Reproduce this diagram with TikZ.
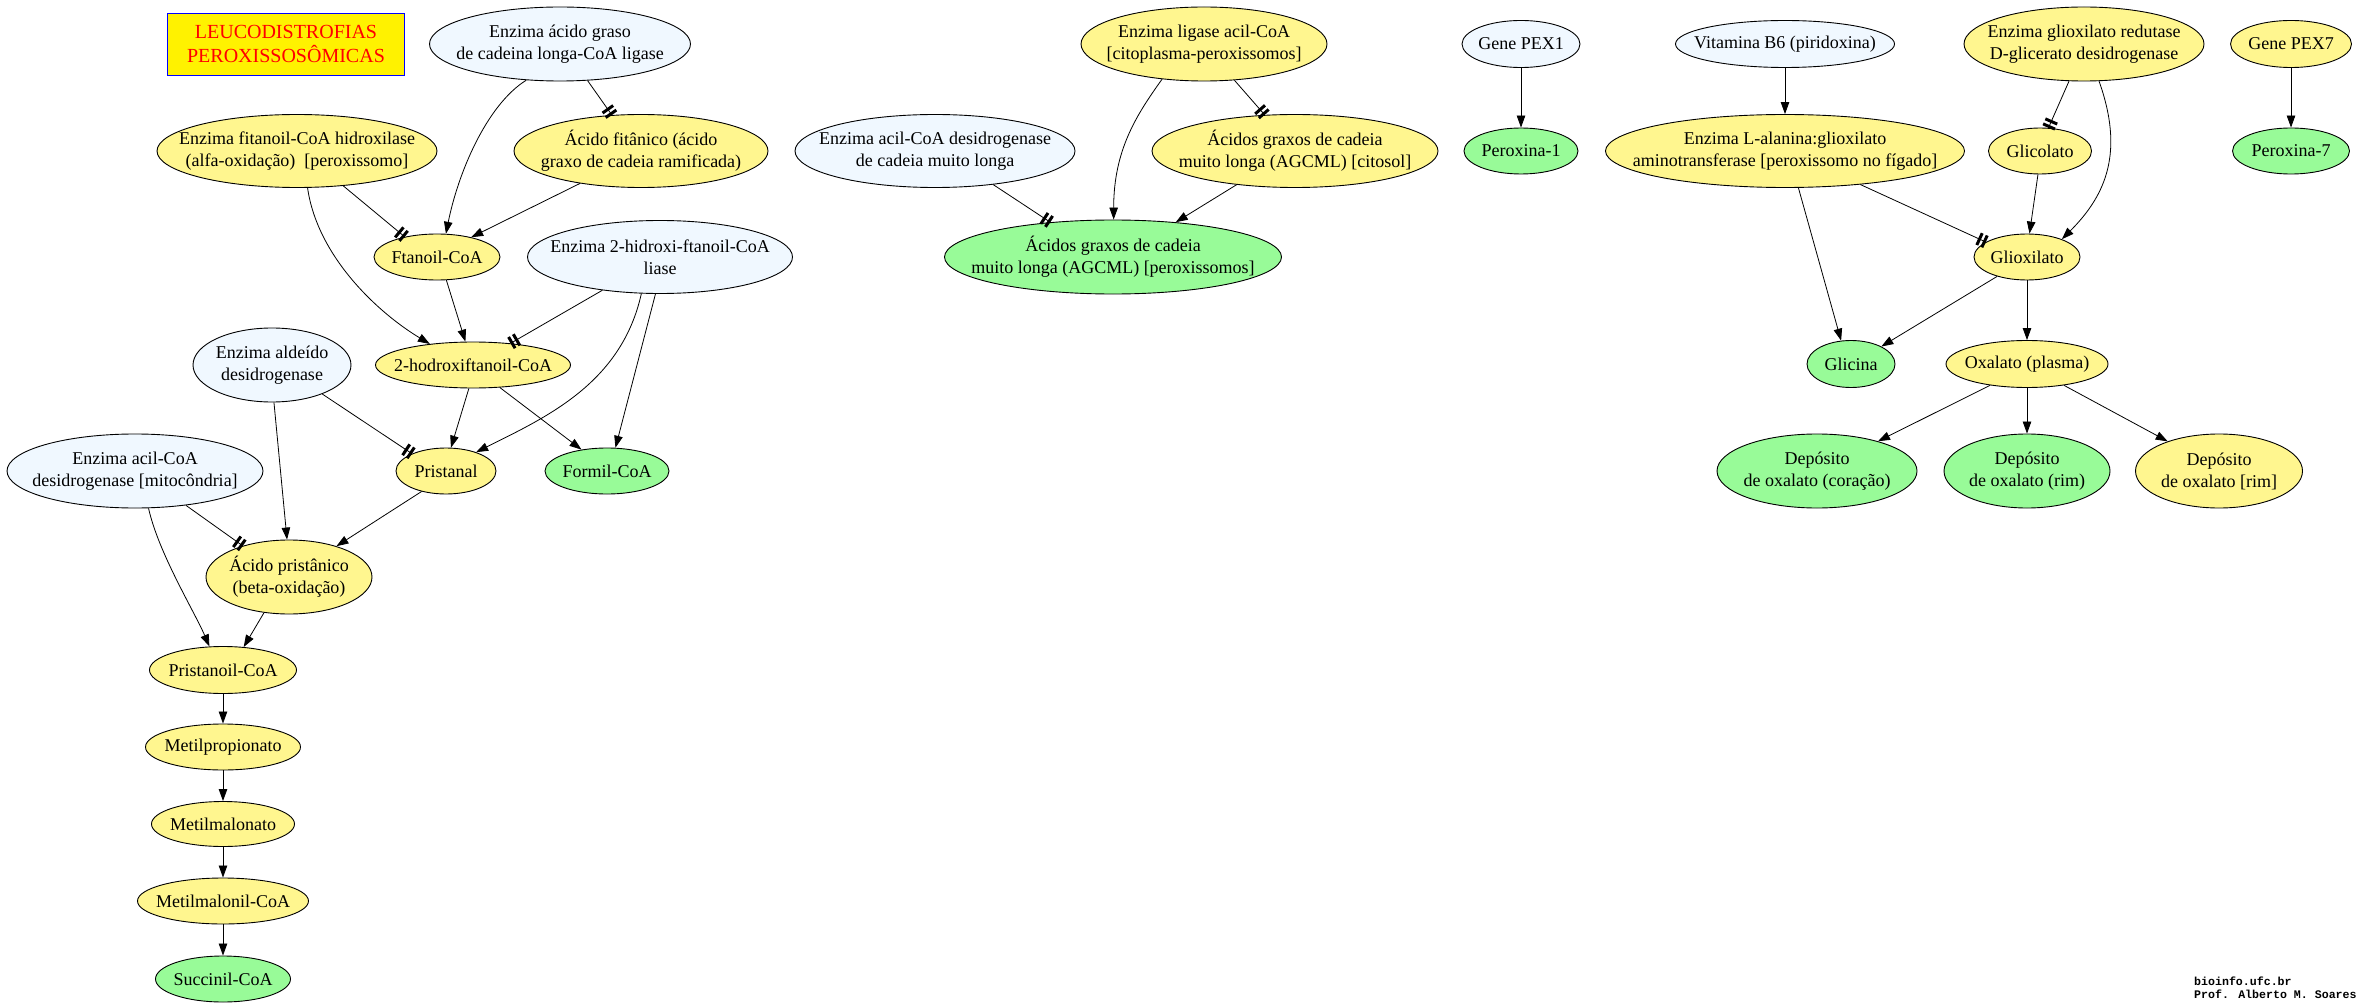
\documentclass[tikz,border=0pt]{standalone}
\usepackage{fontspec}
\setmainfont{Liberation Serif}
\newfontfamily\assinatura{Liberation Mono}
\usepackage{tikz}
\usepackage{xcolor}
\usetikzlibrary{shapes.geometric,arrows.meta}

\definecolor{azulclaro}{HTML}{F0F8FF}
\definecolor{amareloclaro}{HTML}{FFF68F}
\definecolor{verdeclaro}{HTML}{98FB98}

\begin{document}
\begin{tikzpicture}[x=1pt, y=-1pt, line width=0.8pt,
    gv/.style={ellipse, draw, line width=0.9pt, inner xsep=-30pt, inner ysep=0pt,
      align=center, font=\fontsize{18}{22}\selectfont},
    tam/.style 2 args={minimum width=#1pt, minimum height=#2pt},
    azul/.style={gv, fill=azulclaro},
    amarelo/.style={gv, fill=amareloclaro},
    verde/.style={gv, fill=verdeclaro},
    seta/.style={-{Triangle[length=12pt,width=8.5pt]}},
    bloqueio/.style={-{Bar[width=13pt,line width=3pt,sep=2.5pt]Bar[width=13pt,line width=3pt]}}]

    \path[use as bounding box, fill=white] (0,0) rectangle (2357,1008);

    \node[draw=blue, fill=yellow, text=red, tam={237}{62}, inner sep=0pt, align=center,
      font=\fontsize{20}{24}\selectfont] (titulo) at (286,44) {LEUCODISTROFIAS\\PEROXISSOSÔMICAS};

    % via do acido fitanico
    \node[azul, tam={261}{74}] (ligase) at (560,44) {Enzima ácido graso\\de cadeina longa-CoA ligase};
    \node[amarelo, tam={280}{73}] (hidrox) at (297,151) {Enzima fitanoil-CoA hidroxilase\\(alfa-oxidação)\ \ [peroxissomo]};
    \node[amarelo, tam={254}{73}] (fitanico) at (641,151) {Ácido fitânico (ácido\\graxo de cadeia ramificada)};
    \node[amarelo, tam={126}{46}] (ftanoil) at (437,257) {Ftanoil-CoA};
    \node[azul, tam={265}{73}] (liase) at (660,257) {Enzima 2-hidroxi-ftanoil-CoA\\liase};
    \node[amarelo, tam={195}{46}] (hidroxi) at (473,365) {2-hodroxiftanoil-CoA};
    \node[azul, tam={158}{74}] (aldeido) at (272,365) {Enzima aldeído\\desidrogenase};
    \node[amarelo, tam={100}{46}] (pristanal) at (446,471) {Pristanal};
    \node[verde, tam={124}{46}] (formil) at (607,471) {Formil-CoA};
    \node[azul, tam={256}{74}] (acildes) at (135,471) {Enzima acil-CoA\\desidrogenase [mitocôndria]};
    \node[amarelo, tam={166}{74}] (pristanico) at (289,577) {Ácido pristânico\\(beta-oxidação)};
    \node[amarelo, tam={147}{47}] (pristanoil) at (223,670) {Pristanoil-CoA};
    \node[amarelo, tam={155}{46}] (metilprop) at (223,747) {Metilpropionato};
    \node[amarelo, tam={143}{45}] (metilmal) at (223,824) {Metilmalonato};
    \node[amarelo, tam={171}{46}] (metilmalcoa) at (223,901) {Metilmalonil-CoA};
    \node[verde, tam={135}{46}] (succinil) at (223,979) {Succinil-CoA};

    % AGCML
    \node[amarelo, tam={246}{74}] (ligacil) at (1204,44) {Enzima ligase acil-CoA\\{}[citoplasma-peroxissomos]};
    \node[azul, tam={280}{73}] (acilmuito) at (935,151) {Enzima acil-CoA desidrogenase\\de cadeia muito longa};
    \node[amarelo, tam={286}{73}] (agcmlcit) at (1295,151) {Ácidos graxos de cadeia\\muito longa (AGCML) [citosol]};
    \node[verde, tam={337}{74}] (agcmlper) at (1113,257) {Ácidos graxos de cadeia\\muito longa (AGCML) [peroxissomos]};
    \node[azul, tam={118}{47}] (pex1) at (1521,44) {Gene PEX1};
    \node[verde, tam={114}{46}] (peroxina1) at (1521,151) {Peroxina-1};

    % glioxilato / oxalato
    \node[azul, tam={219}{47}] (vitb6) at (1785,44) {Vitamina B6 (piridoxina)};
    \node[amarelo, tam={240}{74}] (redutase) at (2084,44) {Enzima glioxilato redutase\\D-glicerato desidrogenase};
    \node[amarelo, tam={121}{47}] (pex7) at (2291,44) {Gene PEX7};
    \node[verde, tam={117}{46}] (peroxina7) at (2291,151) {Peroxina-7};
    \node[amarelo, tam={359}{73}] (alanina) at (1785,151) {Enzima L-alanina:glioxilato\\aminotransferase [peroxissomo no fígado]};
    \node[amarelo, tam={103}{46}] (glicolato) at (2040,151) {Glicolato};
    \node[amarelo, tam={106}{46}] (glioxilato) at (2027,257) {Glioxilato};
    \node[verde, tam={88}{47}] (glicina) at (1851,364) {Glicina};
    \node[amarelo, tam={162}{47}] (oxplasma) at (2027,364) {Oxalato (plasma)};
    \node[verde, tam={200}{74}] (depcor) at (1817,471) {Depósito\\de oxalato (coração)};
    \node[verde, tam={166}{74}] (deprim) at (2027,471) {Depósito\\de oxalato (rim)};
    \node[amarelo, tam={167}{74}] (deprim2) at (2219,471) {Depósito\\de oxalato [rim]};

    \node[anchor=east, inner sep=0pt, align=left, font=\assinatura\bfseries\fontsize{11.6}{13}\selectfont]
      (autor) at (2357,988) {bioinfo.ufc.br\\Prof. Alberto M. Soares};

    % ligacoes
    \draw[seta] (ligase.227) .. controls +(-40,25) and +(12,-60) .. (ftanoil.69);
    \draw[bloqueio] (ligase.307) -- (fitanico.129);
    \draw[bloqueio] (hidrox.323) -- (ftanoil.148);
    \draw[seta] (hidrox.286) .. controls +(10,70) and +(-50,-30) .. (hidroxi.154);
    \draw[seta] (fitanico.208) -- (ftanoil.30);
    \draw[seta] (ftanoil.292) -- (hidroxi.108);
    \draw[bloqueio] (liase.210) -- (hidroxi.30);
    \draw[seta] (liase.243) .. controls +(-20,90) and +(70,-35) .. (pristanal.32);
    \draw[seta] (liase.263) -- (formil.70);
    \draw[seta] (hidroxi.260) -- (pristanal.78);
    \draw[seta] (hidroxi.320) -- (formil.140);
    \draw[bloqueio] (aldeido.330) -- (pristanal.153);
    \draw[seta] (aldeido.273) -- (pristanico.93);
    \draw[bloqueio] (acildes.326) -- (pristanico.146);
    \draw[seta] (acildes.290) .. controls +(10,45) and +(-15,-35) .. (pristanoil.120);
    \draw[seta] (pristanal.220) -- (pristanico.33);
    \draw[seta] (pristanico.235) -- (pristanoil.48);
    \draw[seta] (pristanoil) -- (metilprop);
    \draw[seta] (metilprop) -- (metilmal);
    \draw[seta] (metilmal) -- (metilmalcoa);
    \draw[seta] (metilmalcoa) -- (succinil);

    \draw[bloqueio] (acilmuito.330) -- (agcmlper.151);
    \draw[seta] (ligacil.220) .. controls +(-25,35) and +(0,-70) .. (agcmlper.89);
    \draw[bloqueio] (ligacil.310) -- (agcmlcit.130);
    \draw[seta] (agcmlcit.210) -- (agcmlper.29);
    \draw[seta] (pex1) -- (peroxina1);

    \draw[seta] (vitb6) -- (alanina);
    \draw[seta] (alanina.290) -- (glicina.113);
    \draw[bloqueio] (alanina.336) -- (glioxilato.160);
    \draw[bloqueio] (redutase.248) -- (glicolato.70);
    \draw[seta] (redutase.292) .. controls +(25,70) and +(45,-45) .. (glioxilato.27);
    \draw[seta] (glicolato.265) -- (glioxilato.84);
    \draw[seta] (pex7) -- (peroxina7);
    \draw[seta] (glioxilato.213) -- (glicina.30);
    \draw[seta] (glioxilato) -- (oxplasma);
    \draw[seta] (oxplasma.210) -- (depcor.26);
    \draw[seta] (oxplasma) -- (deprim);
    \draw[seta] (oxplasma.330) -- (deprim2.150);
\end{tikzpicture}
\end{document}
